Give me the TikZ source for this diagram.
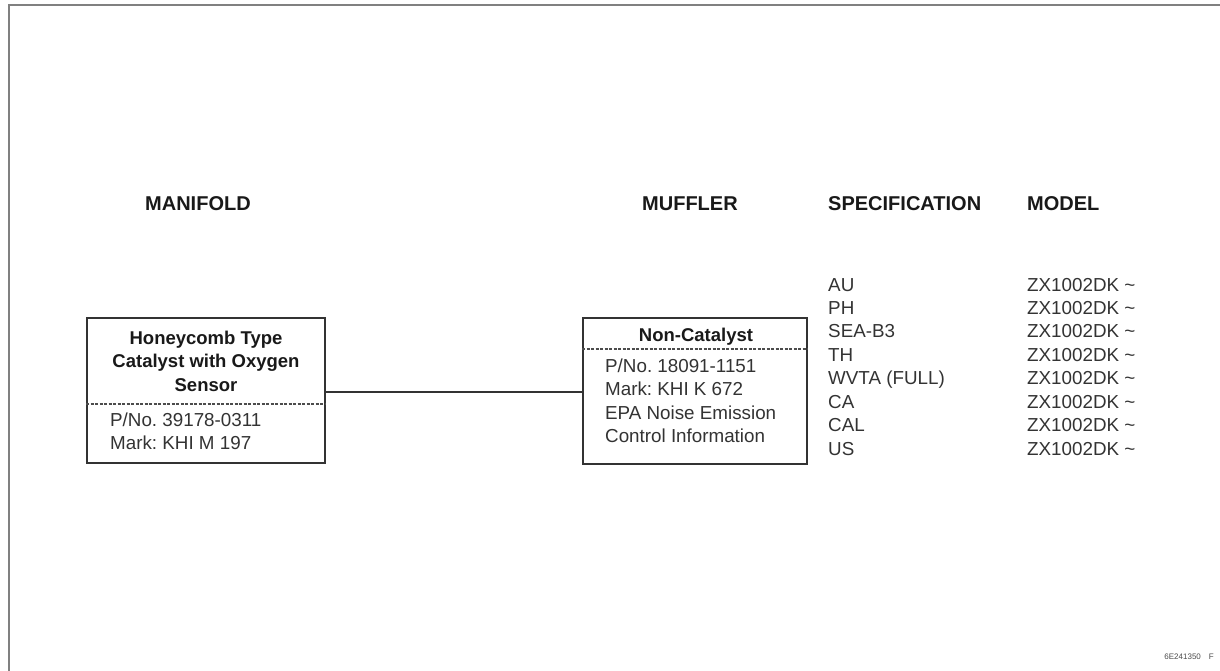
\documentclass[tikz,border=0pt]{standalone}
\usepackage{fontspec}
\setmainfont{Liberation Sans}
\begin{document}
\begin{tikzpicture}[x=1pt,y=-1pt,
  txt/.style={font=\fontsize{18.8}{22}\selectfont, text=black!80, inner sep=0pt, text height=13.5pt, text depth=3.5pt, anchor=west},
  ctr/.style={font=\fontsize{18.5}{22}\selectfont\bfseries, text=black!90, inner sep=0pt, text height=13.5pt, text depth=3.5pt, anchor=center},
  hdr/.style={font=\fontsize{20}{22}\selectfont\bfseries, text=black!90, inner sep=0pt, anchor=west},
  boxn/.style={draw=black!80, line width=1.8pt, rectangle, inner sep=0pt},
  sep/.style={draw=black!70, line width=1.2pt, dash pattern=on 3pt off 1.5pt},
  conn/.style={draw=black!80, line width=1.4pt},
  frame/.style={draw=black!50, line width=2pt}]
\useasboundingbox (0,0) rectangle (1220,670);
\fill[white] (0,0) rectangle (1220,670);
% frame
\coordinate (f1) at (9,671);
\coordinate (f2) at (9,5);
\coordinate (f3) at (1221,5);
\draw[frame] (f1) -- (f2) -- (f3);
% headers
\node[hdr] (hman) at (145,204) {MANIFOLD};
\node[hdr] (hmuf) at (642,204) {MUFFLER};
\node[hdr] (hspec) at (828,204) {SPECIFICATION};
\node[hdr] (hmod) at (1027,204) {MODEL};
% left box
\node[boxn, minimum width=238pt, minimum height=145pt] (lbox) at (206,390.5) {};
\node[ctr] (l1) at (206,339) {Honeycomb Type};
\node[ctr] (l2) at (206,362) {Catalyst with Oxygen};
\node[ctr] (l3) at (206,386) {Sensor};
\draw[sep] (lbox.west |- 0,404) -- (lbox.east |- 0,404);
\node[txt] (l4) at (110,421) {P/No.\ 39178-0311};
\node[txt] (l5) at (110,444) {Mark:\ KHI M 197};
% right box
\node[boxn, minimum width=224pt, minimum height=146pt] (rbox) at (695,391) {};
\node[ctr] (r1) at (696,336) {Non-Catalyst};
\draw[sep] (rbox.west |- 0,349) -- (rbox.east |- 0,349);
\node[txt] (r2) at (605,367) {P/No.\ 18091-1151};
\node[txt] (r3) at (605,390) {Mark:\ KHI K 672};
\node[txt] (r4) at (605,414) {EPA Noise Emission};
\node[txt] (r5) at (605,437) {Control Information};
% connector
\draw[conn] (lbox.east |- 0,392) -- (rbox.west |- 0,392);
% specification list
\node[txt] (s1) at (828,286) {AU};
\node[txt] (s2) at (828,309) {PH};
\node[txt] (s3) at (828,332) {SEA-B3};
\node[txt] (s4) at (828,356) {TH};
\node[txt] (s5) at (828,379) {WVTA (FULL)};
\node[txt] (s6) at (828,403) {CA};
\node[txt] (s7) at (828,426) {CAL};
\node[txt] (s8) at (828,450) {US};
% model list
\node[txt] (m1) at (1027,286) {ZX1002DK \textasciitilde};
\node[txt] (m2) at (1027,309) {ZX1002DK \textasciitilde};
\node[txt] (m3) at (1027,332) {ZX1002DK \textasciitilde};
\node[txt] (m4) at (1027,356) {ZX1002DK \textasciitilde};
\node[txt] (m5) at (1027,379) {ZX1002DK \textasciitilde};
\node[txt] (m6) at (1027,403) {ZX1002DK \textasciitilde};
\node[txt] (m7) at (1027,426) {ZX1002DK \textasciitilde};
\node[txt] (m8) at (1027,450) {ZX1002DK \textasciitilde};
% footer
\node[font=\fontsize{8}{9}\selectfont, text=black!70, inner sep=0pt, anchor=east] (foot) at (1214,657) {6E241350\hspace{8pt}F};
\end{tikzpicture}
\end{document}
